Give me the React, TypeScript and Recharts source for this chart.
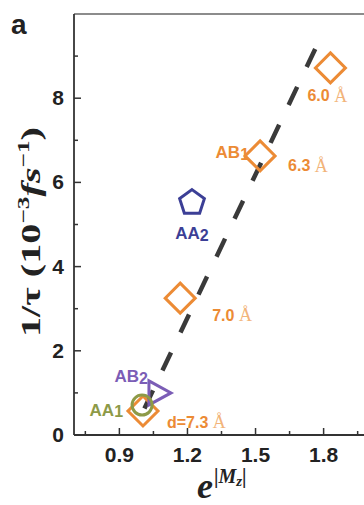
import React from 'react';
import { ScatterChart, Scatter, XAxis, YAxis, ReferenceLine } from 'recharts';

// ---- data ----
const DIAMOND_X = [1.83, 1.52, 1.168, 1.004];
const DIAMOND_Y = [8.72, 6.63, 3.25, 0.57];
const DIAMOND_LABELS = ['6.0', '6.3', '7.0', 'd=7.3'];
const PENTAGON_X = [1.22];
const PENTAGON_Y = [5.52];
const TRIANGLE_X = [1.07];
const TRIANGLE_Y = [1.0];
const CIRCLE_X = [1.0];
const CIRCLE_Y = [0.71];
const FIT_X = [1.763, 0.982];
const FIT_Y = [9.17, 0.31];
const X_TICKS = [0.75, 0.9, 1.05, 1.2, 1.35, 1.5, 1.65, 1.8, 1.95];
const Y_TICKS = [0, 1, 2, 3, 4, 5, 6, 7, 8, 9];

const ORANGE = '#EC8B35';
const ORANGE_LIGHT = '#F2B47A';
const BLUE = '#3C3F96';
const PURPLE = '#7B5DB6';
const OLIVE = '#8D9A47';
const SANS = '"Liberation Sans", Arial, sans-serif';
const SERIF = '"Liberation Serif", "Times New Roman", serif';

const zip = (xs: number[], ys: number[], labels?: string[]) =>
  xs.map((x, i) => ({ x, y: ys[i], label: labels ? labels[i] : '' }));

const diamondData = zip(DIAMOND_X, DIAMOND_Y, DIAMOND_LABELS);
const pentagonData = zip(PENTAGON_X, PENTAGON_Y, ['AA']);
const triangleData = zip(TRIANGLE_X, TRIANGLE_Y, ['AB']);
const circleData = zip(CIRCLE_X, CIRCLE_Y, ['AA']);

const diamondLabelOffsets = [
  { dx: -23, dy: 28 },
  { dx: 28, dy: 10 },
  { dx: 32, dy: 17 },
  { dx: 24, dy: 11 },
];

const NameText = ({ x, y, base, sub, color, anchor }: any) => (
  <text
    x={x}
    y={y}
    textAnchor={anchor}
    dominantBaseline="central"
    fontFamily={SANS}
    fontWeight="bold"
    fontSize={17}
    fill={color}
  >
    {base}
    <tspan fontSize={16} dy={1}>{sub}</tspan>
  </text>
);

const DiamondShape = (props: any) => {
  const { cx, cy, index, payload } = props;
  const r = 15;
  const off = diamondLabelOffsets[index] || { dx: 20, dy: 10 };
  return (
    <g>
      <polygon
        points={`${cx},${cy - r} ${cx + r},${cy} ${cx},${cy + r} ${cx - r},${cy}`}
        fill="none"
        stroke={ORANGE}
        strokeWidth={3}
      />
      <text
        x={cx + off.dx}
        y={cy + off.dy}
        dominantBaseline="central"
        fontFamily={SANS}
        fontWeight="bold"
        fontSize={16}
        fill={ORANGE}
      >
        {payload.label}
        <tspan fontFamily={SERIF} fontWeight="normal" fontSize={18} fill={ORANGE_LIGHT}>
          {' Å'}
        </tspan>
      </text>
      {index === 1 && (
        <NameText x={cx - 11} y={cy - 3} base="AB" sub="1" color={ORANGE} anchor="end" />
      )}
    </g>
  );
};

const PentagonShape = (props: any) => {
  const { cx, cy } = props;
  const r = 13;
  const pts = [0, 1, 2, 3, 4]
    .map((i) => {
      const a = -Math.PI / 2 + (i * 2 * Math.PI) / 5;
      return `${cx + r * Math.cos(a)},${cy + r * Math.sin(a)}`;
    })
    .join(' ');
  return (
    <g>
      <polygon points={pts} fill="none" stroke={BLUE} strokeWidth={3} />
      <NameText x={cx} y={cy + 31} base="AA" sub="2" color={BLUE} anchor="middle" />
    </g>
  );
};

const TriangleShape = (props: any) => {
  const { cx, cy } = props;
  return (
    <g>
      <polygon
        points={`${cx - 9},${cy - 12} ${cx + 13},${cy} ${cx - 9},${cy + 12}`}
        fill="none"
        stroke={PURPLE}
        strokeWidth={3}
      />
      <NameText x={cx - 10} y={cy - 16} base="AB" sub="2" color={PURPLE} anchor="end" />
    </g>
  );
};

const CircleShape = (props: any) => {
  const { cx, cy } = props;
  return (
    <g>
      <circle cx={cx} cy={cy} r={10} fill="none" stroke={OLIVE} strokeWidth={3} />
      <NameText x={cx - 19} y={cy + 5} base="AA" sub="1" color={OLIVE} anchor="end" />
    </g>
  );
};

const isMajorX = (v: number) => Math.round(v * 100) % 30 === 0;

const XTick = (props: any) => {
  const { x, y, payload } = props;
  const v = payload.value;
  const major = isMajorX(v);
  return (
    <g>
      <line x1={x} y1={y} x2={x} y2={y - (major ? 7 : 4)} stroke="#333" strokeWidth={1.5} />
      {major && (
        <text
          x={x}
          y={y + 27}
          textAnchor="middle"
          fontFamily={SANS}
          fontWeight="bold"
          fontSize={21}
          fill="#222"
        >
          {v.toFixed(1)}
        </text>
      )}
    </g>
  );
};

const YTick = (props: any) => {
  const { x, y, payload } = props;
  const v = payload.value;
  const major = v % 2 === 0;
  return (
    <g>
      <line x1={x} y1={y} x2={x + (major ? 7 : 4)} y2={y} stroke="#333" strokeWidth={1.5} />
      {major && (
        <text
          x={x - 10}
          y={y + 7}
          textAnchor="end"
          fontFamily={SANS}
          fontWeight="bold"
          fontSize={21}
          fill="#222"
        >
          {v}
        </text>
      )}
    </g>
  );
};

const YTitle = (props: any) => {
  const vb = props.viewBox || { x: 0, y: 14, width: 74, height: 421 };
  const bx = vb.x + 40;
  const by = vb.y + 218;
  return (
    <text
      x={bx}
      y={by}
      transform={`rotate(-90, ${bx}, ${by})`}
      textAnchor="middle"
      fontFamily={SERIF}
      fontWeight="bold"
      fontSize={27}
      fill="#222"
      textLength={210}
      lengthAdjust="spacingAndGlyphs"
    >
      <tspan>1/τ (10</tspan>
      <tspan fontSize={17} dy={-11}>−3</tspan>
      <tspan dy={11} fontStyle="italic">fs</tspan>
      <tspan fontSize={17} dy={-11}>−1</tspan>
      <tspan dy={11}>)</tspan>
    </text>
  );
};

const XTitle = (props: any) => {
  const vb = props.viewBox || { x: 74, y: 435, width: 326, height: 70 };
  const bx = vb.x + 123;
  const by = vb.y + 63;
  return (
    <text
      x={bx}
      y={by}
      fontFamily={SERIF}
      fontWeight="bold"
      fontStyle="italic"
      fontSize={36}
      fill="#222"
    >
      e
      <tspan fontSize={20} dx={1} dy={-15} fontStyle="normal">|</tspan>
      <tspan fontSize={20}>M</tspan>
      <tspan fontSize={15} dy={3}>z</tspan>
      <tspan fontSize={20} dy={-3} fontStyle="normal">|</tspan>
    </text>
  );
};

export default function App() {
  return (
    <div
      style={{
        position: 'absolute',
        left: 0,
        top: 0,
        width: 364,
        height: 505,
        overflow: 'hidden',
        background: '#fff',
      }}
    >
      <div
        style={{
          position: 'absolute',
          left: 11,
          top: 11,
          fontFamily: SANS,
          fontWeight: 'bold',
          fontSize: 28,
          lineHeight: '28px',
          color: '#222',
        }}
      >
        a
      </div>
      <ScatterChart width={400} height={505} margin={{ top: 14, right: 31, bottom: 0, left: 0 }}>
        <XAxis
          type="number"
          dataKey="x"
          domain={[0.7, 2.0]}
          ticks={X_TICKS}
          allowDataOverflow
          height={70}
          tickSize={0}
          tickMargin={0}
          tickLine={false}
          tick={<XTick />}
          axisLine={{ stroke: '#333', strokeWidth: 1.8 }}
          interval={0}
          label={<XTitle />}
        />
        <YAxis
          type="number"
          dataKey="y"
          domain={[0, 10]}
          ticks={Y_TICKS}
          allowDataOverflow
          width={74}
          tickSize={0}
          tickMargin={0}
          tickLine={false}
          tick={<YTick />}
          axisLine={{ stroke: '#333', strokeWidth: 1.8 }}
          interval={0}
          label={<YTitle />}
        />
        <ReferenceLine y={10} stroke="#666" strokeWidth={1.5} />
        <Scatter data={diamondData} shape={<DiamondShape />} isAnimationActive={false} />
        <Scatter data={pentagonData} shape={<PentagonShape />} isAnimationActive={false} />
        <Scatter data={triangleData} shape={<TriangleShape />} isAnimationActive={false} />
        <Scatter data={circleData} shape={<CircleShape />} isAnimationActive={false} />
        <ReferenceLine
          segment={[
            { x: FIT_X[0], y: FIT_Y[0] },
            { x: FIT_X[1], y: FIT_Y[1] },
          ]}
          stroke="#3a3a3a"
          strokeWidth={4.5}
          strokeDasharray="20 22"
        />
      </ScatterChart>
    </div>
  );
}
